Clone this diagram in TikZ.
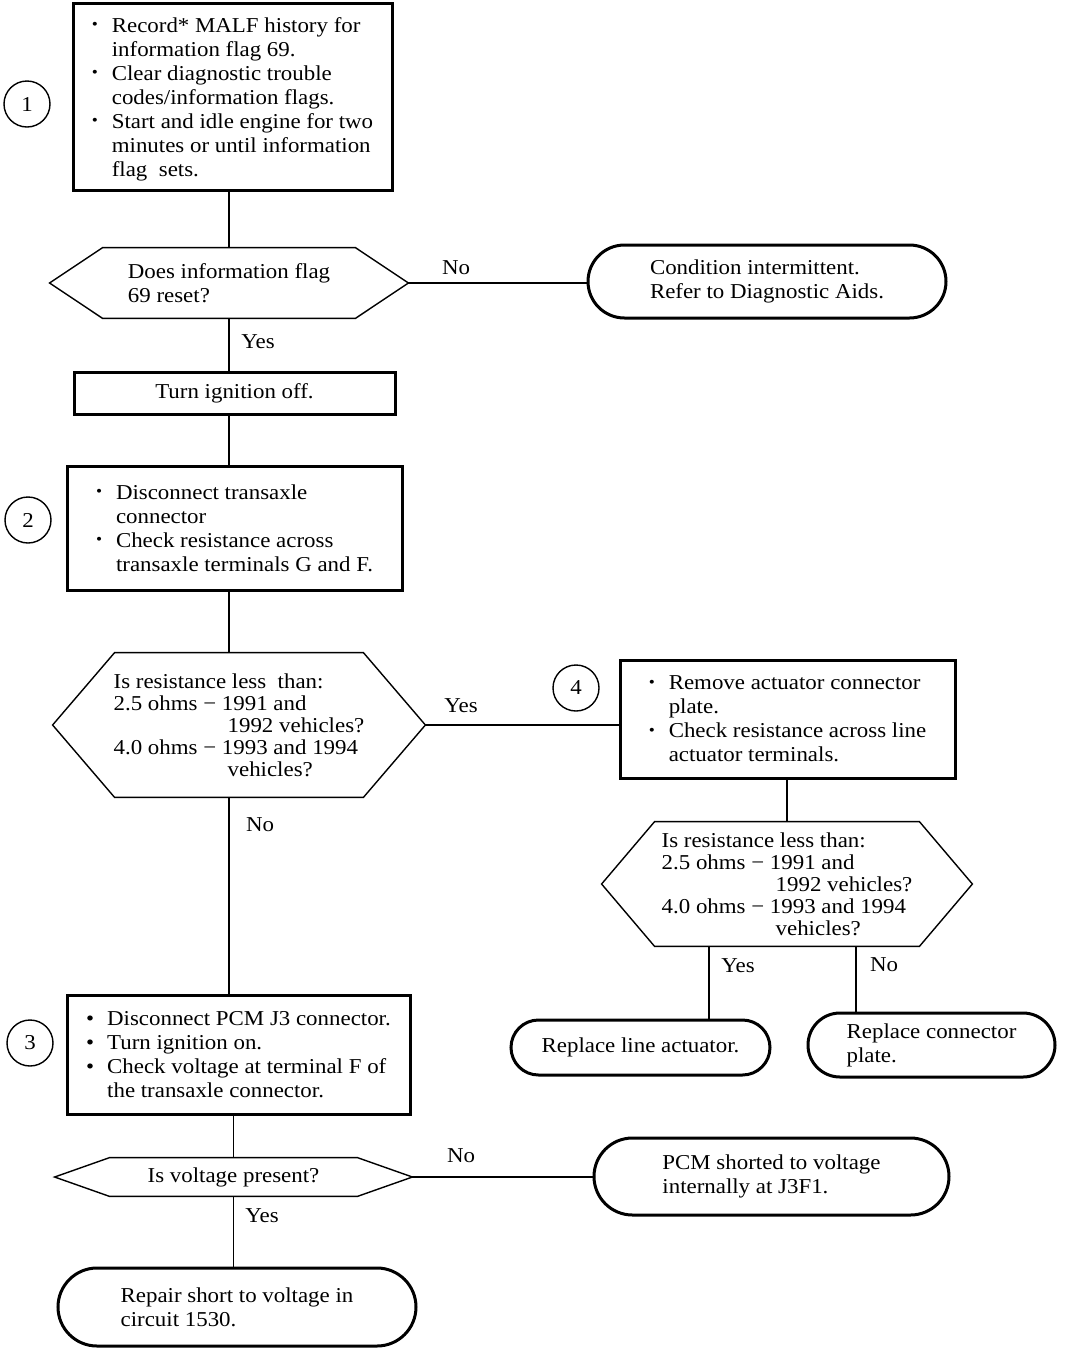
\documentclass[tikz,border=0pt]{standalone}
\usepackage{fontspec}
\setmainfont{Liberation Serif}[FakeStretch=1.08]
\usetikzlibrary{shapes.misc,calc}
\newcommand\bl{\makebox[10pt][l]{\raisebox{1.2pt}{\footnotesize •}}}
\newcommand\bb{\makebox[10.5pt][l]{•}}
\newcommand\ind{\hspace*{10pt}}
\newcommand\hexpath[2]{\draw[hexline] (#1.west) -- ([xshift=#2]#1.north west) -- ([xshift=-#2]#1.north east) -- (#1.east) -- ([xshift=-#2]#1.south east) -- ([xshift=#2]#1.south west) -- cycle;}
\tikzset{
 every node/.style={font=\fontsize{10.6}{12}\selectfont, inner sep=0pt},
 box/.style={draw, line width=1.5pt, align=left},
 oval/.style={draw, rounded rectangle, line width=1.5pt, align=left},
 hexnode/.style={align=left},
 hexline/.style={line width=0.7pt, line join=miter},
 conn/.style={line width=0.8pt},
 num/.style={draw, circle, line width=0.7pt, minimum width=23pt, minimum height=21.5pt},
}
\begin{document}
\begin{tikzpicture}[x=0.5pt,y=-0.5pt]
\path[use as bounding box, fill=white] (0,0) rectangle (1072,1350);
\coordinate (sp) at (229,0);
\coordinate (yl) at (709,0);
\coordinate (nl) at (856,0);
% step 1
\node[box, minimum width=159.5pt, minimum height=93.5pt] (b1) at (232.5,96.5)
 {\rule{0pt}{10pt}\bl Record* MALF history for\\\ind information flag 69.\\\bl Clear diagnostic trouble\\\ind codes/information flags.\\\bl Start and idle engine for two\\\ind minutes or until information\\\ind flag\ \ sets.};
\node[num] (c1) at (27,104) {1};
\node[hexnode, minimum width=179pt, minimum height=35pt] (h1) at (229,283) {Does information flag\\69 reset?};
\hexpath{h1}{26.5pt}
\node[oval, minimum width=179pt, minimum height=36.5pt] (o1) at (767,281.5) {Condition intermittent.\\Refer to Diagnostic Aids.};
\node[box, minimum width=160.5pt, minimum height=21pt] (b2) at (234.5,393) {Turn ignition off.};
% step 2
\node[box, minimum width=167.5pt, minimum height=62pt] (b3) at (234.5,528)
 {\bl Disconnect transaxle\\\ind connector\\\bl Check resistance across\\\ind transaxle terminals G and F.};
\node[num] (c2) at (28,520) {2};
\node[hexnode, font=\fontsize{10.6}{11}\selectfont, minimum width=186pt, minimum height=72pt] (h2) at (239,725)
 {Is resistance less\ \ than:\\2.5 ohms − 1991 and\\\hspace*{57pt}1992 vehicles?\\4.0 ohms − 1993 and 1994\\\hspace*{57pt}vehicles?};
\hexpath{h2}{31pt}
% step 4
\node[box, minimum width=167.5pt, minimum height=59pt] (b4) at (787.5,719)
 {\bl Remove actuator connector\\\ind plate.\\\bl Check resistance across line\\\ind actuator terminals.};
\node[num] (c4) at (576,688) {4};
\node[hexnode, font=\fontsize{10.6}{11}\selectfont, minimum width=185pt, minimum height=62pt] (h3) at (787,884)
 {Is resistance less than:\\2.5 ohms − 1991 and\\\hspace*{57pt}1992 vehicles?\\4.0 ohms − 1993 and 1994\\\hspace*{57pt}vehicles?};
\hexpath{h3}{26.5pt}
\node[oval, minimum width=129.5pt, minimum height=27.5pt] (o2) at (640.5,1047.5) {Replace line actuator.};
\node[oval, minimum width=123.5pt, minimum height=32pt] (o3) at (931.5,1045) {Replace connector\\plate.};
% step 3
\node[box, minimum width=171.5pt, minimum height=59.5pt] (b5) at (238.5,1054.5)
 {\bb Disconnect PCM J3 connector.\\\bb Turn ignition on.\\\bb Check voltage at terminal F of\\\hspace*{10.5pt}the transaxle connector.};
\node[num] (c3) at (30,1043) {3};
\node[hexnode, minimum width=178.5pt, minimum height=19pt] (h4) at (233.5,1177) {Is voltage present?};
\hexpath{h4}{27.5pt}
\node[oval, minimum width=177.5pt, minimum height=38.5pt] (o4) at (771.5,1176.5) {PCM shorted to voltage\\internally at J3F1.};
\node[oval, minimum width=179pt, minimum height=39pt] (o5) at (237,1307) {Repair short to voltage in\\circuit 1530.};
% connectors
\draw[conn] (h1.north |- b1.south) -- (h1.north);
\draw[conn] (h1.east) -- (h1.east -| o1.west);
\draw[conn] (h1.south) -- (h1.south |- b2.north);
\draw[conn] (sp |- b2.south) -- (sp |- b3.north);
\draw[conn] (sp |- b3.south) -- (sp |- h2.north);
\draw[conn] (h2.east) -- (h2.east -| b4.west);
\draw[conn] (h3.north |- b4.south) -- (h3.north);
\draw[conn] (yl |- h3.south) -- (yl |- o2.north);
\draw[conn] (nl |- h3.south) -- (nl |- o3.north);
\draw[conn] (sp |- h2.south) -- (sp |- b5.north);
\draw[conn] (h4.north |- b5.south) -- (h4.north);
\draw[conn] (h4.east) -- (h4.east -| o4.west);
\draw[conn] (h4.south) -- (h4.south |- o5.north);
% labels
\node (l1) at (456,268) {No};
\node (l2) at (258,342) {Yes};
\node (l3) at (461,706) {Yes};
\node (l4) at (260,825) {No};
\node (l5) at (738,966) {Yes};
\node (l6) at (884,965) {No};
\node (l7) at (461,1156) {No};
\node (l8) at (262,1216) {Yes};
\end{tikzpicture}
\end{document}
